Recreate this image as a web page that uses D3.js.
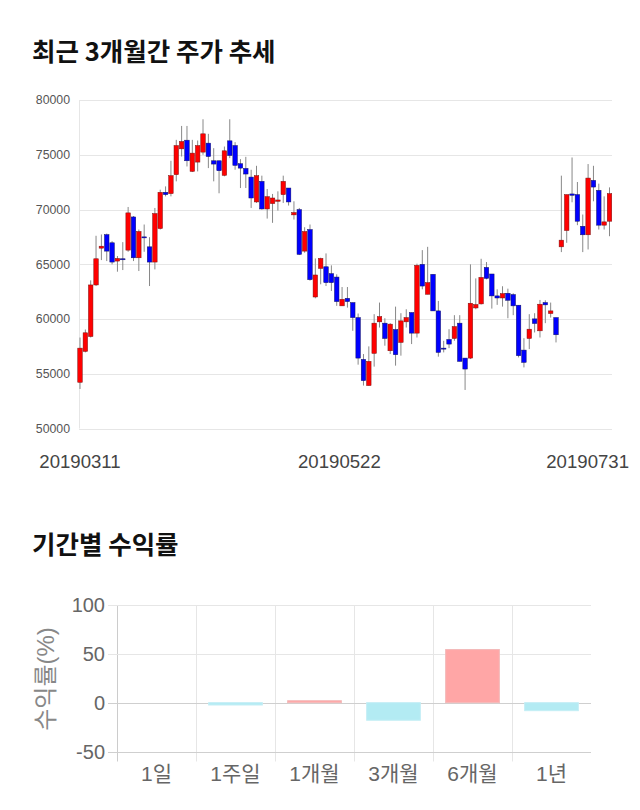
<!DOCTYPE html>
<html><head><meta charset="utf-8">
<script src="https://cdn.jsdelivr.net/npm/d3@7"></script>
<style>
html,body{margin:0;padding:0;background:#fff;}
svg{display:block;}
text{font-family:"Liberation Sans","Noto Sans CJK KR",sans-serif;}
.ko{font-family:"Noto Sans CJK KR","Liberation Sans",sans-serif;}
</style></head>
<body>
<script>
// ---------- data: candlestick (OHLC), 2019-03-11 .. 2019-07-31 ----------
const opens  = [54220,57040,58400,63110,66470,67700,66960,65290,65500,66290,69320,65590,67500,66590,65200,68260,71570,71450,73180,75540,
                76330,73480,74330,75240,76060,74450,74450,73120,76270,75840,74180,73750,72960,70690,72570,70050,70540,70750,71360,71960,
                69510,69990,66200,68170,62010,64620,64770,64140,63830,61200,61890,61500,60130,56310,53920,56860,59740,59620,57100,59040,
                57860,59740,60590,58710,64990,62260,64080,60740,57340,58130,58220,59620,56430,56430,61010,61380,64710,64110,62110,61920,
                62350,62230,61260,57160,58220,60010,58920,61500,60500,60130,66590,68080,71420,71360,68470,67690,72660,71750,68570,68930];
const highs  = [58310,59040,63530,67600,67720,67800,67110,65750,67020,70230,69400,68170,68630,67470,70140,71810,72110,74450,76360,77630,
                77630,76360,76300,78240,76910,75600,74450,75750,78240,76150,74600,74810,73630,73990,73090,71870,71420,71660,73090,71960,
                70750,70140,68380,68630,65530,65600,65990,64900,64080,62920,62920,61500,60500,56800,57500,60440,61500,60070,59620,61130,
                60530,60890,60590,65050,66290,66590,64080,61650,58010,59070,60350,60350,56430,64990,63710,65500,65200,64110,62710,62990,
                62770,62350,61260,58250,60440,60530,61740,61710,61500,60130,73090,71360,74750,72510,69540,74150,73990,72360,71200,72020];
const lows   = [53610,56950,58310,63010,65380,65290,64990,64320,64470,66140,65290,64380,66140,63010,64530,68170,71200,71200,72570,74840,
                73930,73420,73480,75000,73780,72570,71480,73030,74690,73630,71960,71960,70140,70600,69990,69170,68780,69900,70600,70360,
                69080,65840,66050,63500,61890,63170,63010,62560,61200,61200,61040,58920,55830,53920,53920,55650,59220,57560,56800,55740,
                56650,59220,57710,58310,62710,62260,60740,56560,56950,57340,58010,56130,53520,56340,60890,61320,63620,60950,61290,61130,
                60070,60350,56490,55580,57250,58770,58310,59620,60130,57860,66110,66960,70660,68570,66110,66350,70750,68170,68170,67560];
const closes = [57340,58740,63110,65500,66650,66200,65200,65530,65480,69690,65590,67990,67480,65200,69630,71570,71360,73090,75840,76210,
                74450,75150,75840,76910,74840,74150,73540,75360,74930,74030,73780,73240,71050,73090,70050,71170,71050,70870,72570,70690,
                69720,65900,67990,63590,64020,65530,63320,63320,61590,61800,61590,60130,56430,54370,56130,59620,60220,58220,59530,56740,
                59830,60130,58710,64900,63010,63320,60740,56950,57320,57710,59310,56130,55430,61440,61320,63800,63710,62110,61920,62320,
                61710,61200,56650,56040,59070,59590,61350,61290,60740,58560,67200,71360,71300,68930,67690,72870,72050,68570,68870,71450];
const priceTicks = [50000,55000,60000,65000,70000,75000,80000];
const dateLabels = ["20190311","20190522","20190731"];
const dateLabelIdx = [0,48.5,99];

// ---------- data: period returns ----------
const periods = ["1일","1주일","1개월","3개월","6개월","1년"];
const returns = [0,-2.4,2.0,-18.0,54.4,-8.2];
const returnTicks = [-50,0,50,100];

const W=640,H=810;
const svg=d3.select("body").append("svg").attr("width",W).attr("height",H);

// ===== Title 1 =====
svg.append("text").attr("class","ko").attr("x",32).attr("y",61)
  .attr("font-size",25.5).attr("font-weight","bold").attr("fill","#111")
  .text("최근 3개월간 주가 추세");

// ===== Candle chart =====
const x1=d3.scaleLinear().domain([0,opens.length-1]).range([80,609.5]);
const y1=d3.scaleLinear().domain([50000,80000]).range([428.5,100]);
const g1=svg.append("g");
g1.selectAll(".hg").data(priceTicks).join("line")
  .attr("x1",79).attr("x2",612).attr("y1",d=>Math.round(y1(d))+0.5).attr("y2",d=>Math.round(y1(d))+0.5)
  .attr("stroke","#e6e6e6").attr("stroke-width",1);
g1.append("line").attr("x1",79.5).attr("x2",79.5).attr("y1",y1(80000)).attr("y2",y1(50000))
  .attr("stroke","#e6e6e6");
g1.selectAll(".yl").data(priceTicks).join("text")
  .attr("x",70).attr("y",d=>y1(d)).attr("dy","0.35em").attr("text-anchor","end")
  .attr("font-size",12.3).attr("fill","#555").text(d=>d);

const idx=d3.range(opens.length);
const bw=4.5;
g1.selectAll(".wick").data(idx).join("line")
  .attr("x1",i=>x1(i)).attr("x2",i=>x1(i))
  .attr("y1",i=>y1(highs[i])).attr("y2",i=>y1(lows[i]))
  .attr("stroke","#888").attr("stroke-width",1);
g1.selectAll(".body").data(idx).join("rect")
  .attr("x",i=>x1(i)-bw/2).attr("width",bw)
  .attr("y",i=>y1(Math.max(opens[i],closes[i])))
  .attr("height",i=>Math.max(1,Math.abs(y1(opens[i])-y1(closes[i]))))
  .attr("fill",i=>closes[i]>=opens[i]?"#ff0000":"#0000ff")
  .attr("stroke",i=>closes[i]>=opens[i]?"#7a1010":"#101060").attr("stroke-width",0.5);

g1.selectAll(".xl").data(dateLabels).join("text")
  .attr("y",468).attr("font-size",18.6).attr("fill","#444").attr("text-anchor","middle")
  .text(d=>d)
  .attr("x",function(d,i){
    const w=this.getComputedTextLength();
    let cx=x1(dateLabelIdx[i]);
    if(cx+w/2>629) cx=629-w/2;
    return cx;
  });

// ===== Title 2 =====
svg.append("text").attr("class","ko").attr("x",32).attr("y",554)
  .attr("font-size",25.5).attr("font-weight","bold").attr("fill","#111")
  .text("기간별 수익률");

// ===== Return bar chart =====
const x2=d3.scaleBand().domain(periods).range([117,591]).paddingInner(0.32).paddingOuter(0.16);
const y2=d3.scaleLinear().domain([-50,100]).range([751.5,605]);
const g2=svg.append("g");
const step=x2.step();
const bounds=d3.range(periods.length).map(i=>117+i*step);
g2.selectAll(".vg").data(bounds).join("line")
  .attr("x1",d=>Math.round(d)+0.5).attr("x2",d=>Math.round(d)+0.5)
  .attr("y1",y2(100)).attr("y2",y2(-50)+10)
  .attr("stroke",(d,i)=>i===0?"#ccc":"#e6e6e6");
g2.selectAll(".hg").data(returnTicks).join("line")
  .attr("x1",108).attr("x2",591)
  .attr("y1",d=>Math.round(y2(d))+0.5).attr("y2",d=>Math.round(y2(d))+0.5)
  .attr("stroke",d=>(d===0||d===-50)?"#cfcfcf":"#e6e6e6");
g2.selectAll(".bar").data(periods).join("rect")
  .attr("x",d=>x2(d)).attr("width",x2.bandwidth())
  .attr("y",(d,i)=>y2(Math.max(0,returns[i])))
  .attr("height",(d,i)=>Math.abs(y2(returns[i])-y2(0)))
  .attr("fill",(d,i)=>returns[i]>=0?"#ffa6a6":"#b3ebf3")
  .attr("stroke",(d,i)=>returns[i]>=0?"#f3b9b9":"#c4eef5").attr("stroke-width",1);
g2.selectAll(".yl").data(returnTicks).join("text")
  .attr("x",105).attr("y",d=>y2(d)).attr("dy","0.35em").attr("text-anchor","end")
  .attr("font-size",20).attr("fill","#666").text(d=>d);
g2.selectAll(".xl").data(periods).join("text")
  .attr("x",d=>x2(d)+x2.bandwidth()/2).attr("y",781).attr("text-anchor","middle")
  .attr("font-size",21).attr("fill","#666").text(d=>d);
svg.append("text").attr("transform","translate(54,679) rotate(-90)")
  .attr("text-anchor","middle").attr("font-size",24).attr("fill","#888")
  .text("수익률(%)");
</script>
</body></html>
